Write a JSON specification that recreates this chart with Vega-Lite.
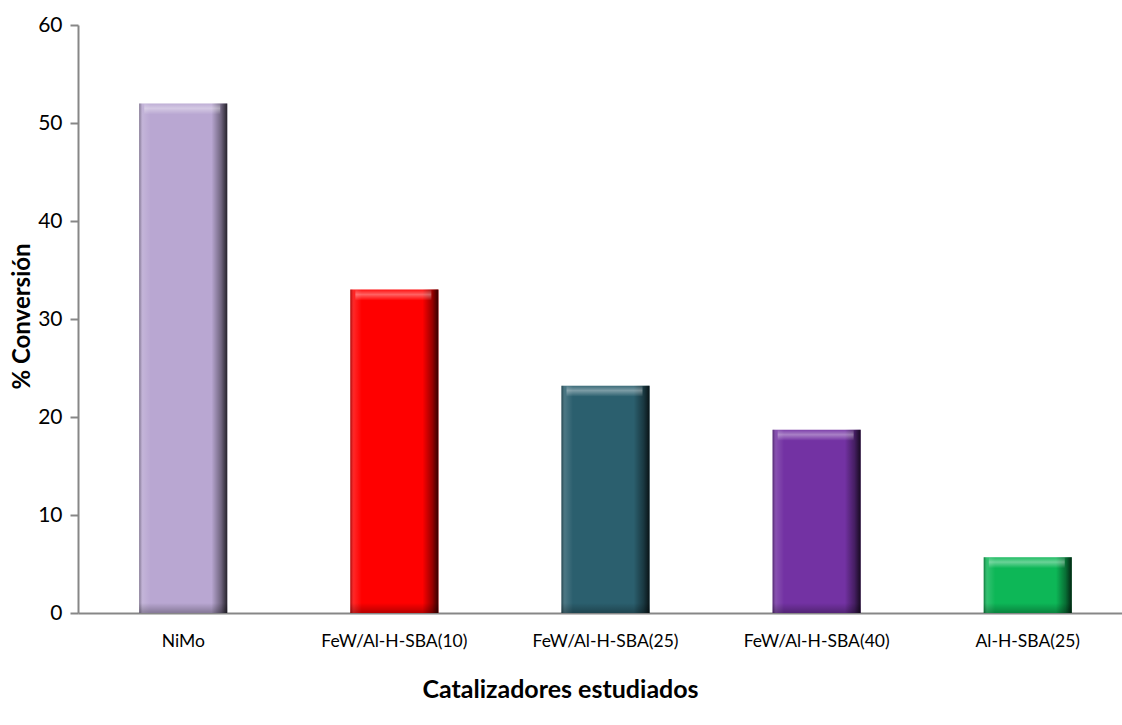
{
  "$schema": "https://vega.github.io/schema/vega-lite/v6.json",
  "width": 1044,
  "height": 588,
  "autosize": "none",
  "padding": {"left": 78, "top": 25, "right": 0, "bottom": 112},
  "background": "white",
  "config": {
    "view": {"stroke": null},
    "font": "Lato"
  },
  "data": {
    "values": [
      {"catalizador": "NiMo", "conversion": 52.0},
      {"catalizador": "FeW/Al-H-SBA(10)", "conversion": 33.0},
      {"catalizador": "FeW/Al-H-SBA(25)", "conversion": 23.2},
      {"catalizador": "FeW/Al-H-SBA(40)", "conversion": 18.7},
      {"catalizador": "Al-H-SBA(25)", "conversion": 5.7}
    ]
  },
  "encoding": {
    "x": {
      "field": "catalizador",
      "type": "nominal",
      "sort": null,
      "scale": {"range": [0, 1055], "paddingInner": 0.583, "paddingOuter": 0.29},
      "axis": {
        "title": "Catalizadores estudiados",
        "titleFont": "Lato",
        "titleFontSize": 25,
        "titleFontWeight": "bold",
        "titleColor": "#000000",
        "titleX": 482,
        "titleY": 76,
        "titleAnchor": null,
        "titleAlign": "center",
        "titleBaseline": "middle",
        "labelAngle": 0,
        "labelFontSize": 17.5,
        "labelColor": "#000000",
        "labelPadding": 19,
        "ticks": false,
        "domainColor": "#878787",
        "domainWidth": 2,
        "grid": false
      }
    }
  },
  "layer": [
    {
      "mark": {"type": "bar"},
      "encoding": {
        "y": {
          "field": "conversion",
          "type": "quantitative",
          "scale": {"domain": [0, 60]},
          "axis": {
            "title": "% Conversión",
            "titleFont": "Lato",
            "titleFontSize": 24,
            "titleFontWeight": "bold",
            "titleColor": "#000000",
            "titleAngle": -90,
            "titleX": -56,
            "titleY": 291,
            "titleAlign": "center",
            "titleBaseline": "middle",
            "values": [0, 10, 20, 30, 40, 50, 60],
            "labelFontSize": 21,
            "labelColor": "#000000",
            "labelPadding": 8,
            "tickSize": 8,
            "tickColor": "#878787",
            "tickWidth": 2,
            "domainColor": "#878787",
            "domainWidth": 2,
            "grid": false
          }
        },
        "color": {
          "field": "catalizador",
          "type": "nominal",
          "legend": null,
          "scale": {
            "domain": ["NiMo", "FeW/Al-H-SBA(10)", "FeW/Al-H-SBA(25)", "FeW/Al-H-SBA(40)", "Al-H-SBA(25)"],
            "range": ["#B9A7D2", "#FF0000", "#2B5F6E", "#7332A3", "#0DB757"]
          }
        }
      }
    },
    {
      "mark": {
        "type": "bar",
        "color": {
          "gradient": "linear",
          "x1": 0, "y1": 0, "x2": 1, "y2": 0,
          "stops": [
            {"offset": 0, "color": "rgba(0,0,0,0.35)"},
            {"offset": 0.04, "color": "rgba(255,255,255,0.15)"},
            {"offset": 0.13, "color": "rgba(255,255,255,0)"},
            {"offset": 0.82, "color": "rgba(0,0,0,0)"},
            {"offset": 0.93, "color": "rgba(0,0,0,0.4)"},
            {"offset": 1, "color": "rgba(0,0,0,0.8)"}
          ]
        }
      },
      "encoding": {
        "y": {"field": "conversion", "type": "quantitative"}
      }
    },
    {
      "mark": {
        "type": "tick",
        "orient": "horizontal",
        "size": 76,
        "thickness": 11,
        "yOffset": 5.5,
        "xOffset": -1,
        "color": {
          "gradient": "linear",
          "x1": 0, "y1": 0, "x2": 0, "y2": 1,
          "stops": [
            {"offset": 0, "color": "rgba(255,255,255,0.1)"},
            {"offset": 0.45, "color": "rgba(255,255,255,0.55)"},
            {"offset": 1, "color": "rgba(255,255,255,0)"}
          ]
        }
      },
      "encoding": {
        "y": {"field": "conversion", "type": "quantitative"}
      }
    },
    {
      "mark": {
        "type": "tick",
        "orient": "horizontal",
        "size": 88,
        "thickness": 10,
        "yOffset": -5,
        "color": {
          "gradient": "linear",
          "x1": 0, "y1": 0, "x2": 0, "y2": 1,
          "stops": [
            {"offset": 0, "color": "rgba(0,0,0,0)"},
            {"offset": 1, "color": "rgba(0,0,0,0.4)"}
          ]
        }
      },
      "encoding": {
        "y": {"datum": 0, "type": "quantitative"}
      }
    }
  ]
}
